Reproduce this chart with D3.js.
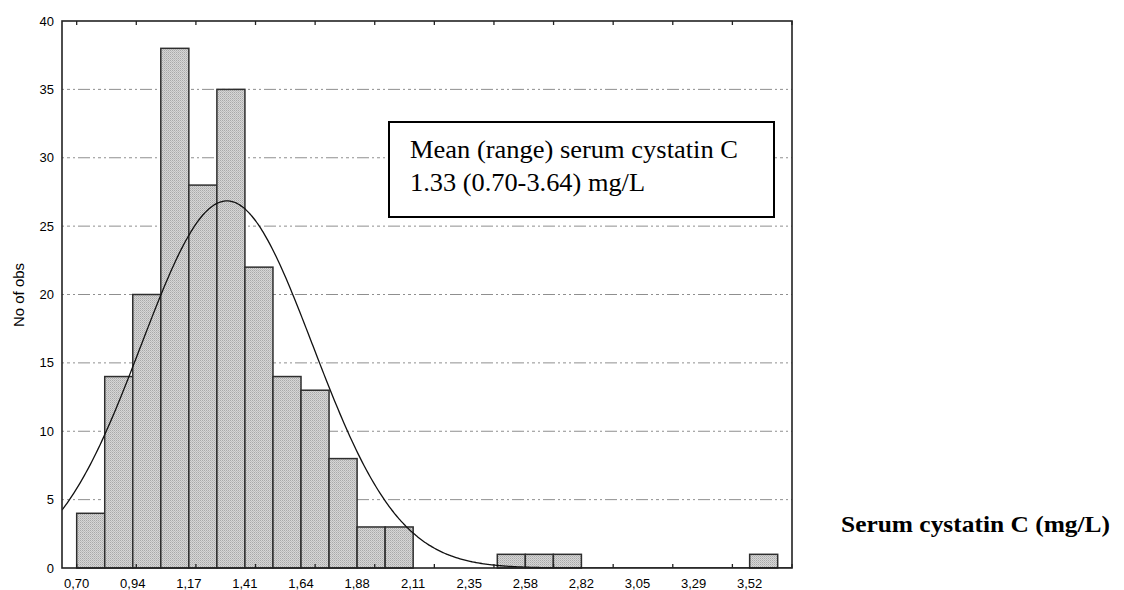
<!DOCTYPE html>
<html>
<head>
<meta charset="utf-8">
<script src="https://cdn.jsdelivr.net/npm/d3@7"></script>
<style>
  body { margin: 0; background: #fff; }
  svg { display: block; }
</style>
</head>
<body>
<div id="chart"></div>
<script>
// histogram of serum cystatin C, 25 equal bins from 0.70 to 3.64
const binMin = 0.70;
const binMax = 3.64;
const counts = [4, 14, 20, 38, 28, 35, 22, 14, 13, 8, 3, 3, 0, 0, 0, 1, 1, 1, 0, 0, 0, 0, 0, 0, 1];

// labels sit on every second bin edge
const xTickLabels = ['0,70', '0,94', '1,17', '1,41', '1,64', '1,88', '2,11', '2,35', '2,58', '2,82', '3,05', '3,29', '3,52'];
const yTicks = [0, 5, 10, 15, 20, 25, 30, 35, 40];

// fitted normal curve
const fitMean = 1.33;
const fitSd = 0.36;

const boxLines = ['Mean (range) serum cystatin C', '1.33 (0.70-3.64) mg/L'];

const width = 1124, height = 590;
const plot = { left: 62, right: 792, top: 21, bottom: 568 };

const svg = d3.select('#chart').append('svg')
  .attr('width', width)
  .attr('height', height)
  .attr('viewBox', [0, 0, width, height]);

const binW = (binMax - binMin) / counts.length;
const total = d3.sum(counts);
const bins = counts.map((c, i) => ({ x0: binMin + i * binW, x1: binMin + (i + 1) * binW, n: c }));

const x = d3.scaleLinear().domain([0.6384, 3.70]).range([plot.left, plot.right]);
const y = d3.scaleLinear().domain([0, 40]).range([plot.bottom, plot.top]);

// fine cross-hatch for the bars
const defs = svg.append('defs');
const pat = defs.append('pattern')
  .attr('id', 'hatch')
  .attr('patternUnits', 'userSpaceOnUse')
  .attr('width', 2).attr('height', 2);
pat.append('rect').attr('width', 2).attr('height', 2).attr('fill', '#d6d6d6');
pat.append('rect').attr('width', 1).attr('height', 1).attr('fill', '#a9a9a9');
pat.append('rect').attr('x', 1).attr('y', 1).attr('width', 1).attr('height', 1).attr('fill', '#bdbdbd');

defs.append('clipPath').attr('id', 'plotclip')
  .append('rect')
  .attr('x', plot.left).attr('y', plot.top)
  .attr('width', plot.right - plot.left).attr('height', plot.bottom - plot.top);

// grid lines ////////////////////////////////////////////////////////////////
svg.append('g').attr('id', 'grid')
  .selectAll('line')
  .data(yTicks.filter(d => d > 0 && d < 40))
  .join('line')
  .attr('x1', plot.left).attr('x2', plot.right)
  .attr('y1', d => y(d)).attr('y2', d => y(d))
  .attr('stroke', '#8f8f8f')
  .attr('stroke-width', 1)
  .attr('stroke-dasharray', '2,3,3,3,2,3,12,3');

// bars //////////////////////////////////////////////////////////////////////
svg.append('g').attr('id', 'bars')
  .selectAll('rect')
  .data(bins.filter(d => d.n > 0))
  .join('rect')
  .attr('x', d => x(d.x0))
  .attr('width', d => x(d.x1) - x(d.x0))
  .attr('y', d => y(d.n))
  .attr('height', d => y(0) - y(d.n))
  .attr('fill', 'url(#hatch)')
  .attr('stroke', '#2e2e2e')
  .attr('stroke-width', 1.5);

// normal curve //////////////////////////////////////////////////////////////
const scaleN = total * binW / (fitSd * Math.sqrt(2 * Math.PI));
const curvePts = d3.range(plot.left, plot.right + 1, 2).map(px => {
  const v = x.invert(px);
  const z = (v - fitMean) / fitSd;
  return [v, scaleN * Math.exp(-0.5 * z * z)];
});
svg.append('path')
  .attr('clip-path', 'url(#plotclip)')
  .attr('d', d3.line().x(d => x(d[0])).y(d => y(d[1])).curve(d3.curveBasis)(curvePts))
  .attr('fill', 'none')
  .attr('stroke', '#111')
  .attr('stroke-width', 1.3);

// frame and ticks ///////////////////////////////////////////////////////////
svg.append('rect')
  .attr('x', plot.left).attr('y', plot.top)
  .attr('width', plot.right - plot.left).attr('height', plot.bottom - plot.top)
  .attr('fill', 'none')
  .attr('stroke', '#222')
  .attr('stroke-width', 1.6);

const tickVals = d3.range(13).map(i => 0.70 + i * 0.25);
const ticks = svg.append('g').attr('id', 'ticks').attr('stroke', '#222').attr('stroke-width', 1.3);
ticks.selectAll('.tt').data(tickVals).join('line').attr('class', 'tt')
  .attr('x1', d => x(d)).attr('x2', d => x(d))
  .attr('y1', plot.top).attr('y2', plot.top + 4);
ticks.selectAll('.tb').data(tickVals).join('line').attr('class', 'tb')
  .attr('x1', d => x(d)).attr('x2', d => x(d))
  .attr('y1', plot.bottom).attr('y2', plot.bottom - 4);

// tick labels ///////////////////////////////////////////////////////////////
svg.append('g')
  .attr('font-family', 'Liberation Sans, Arial, sans-serif')
  .attr('font-size', 13)
  .attr('text-anchor', 'end')
  .selectAll('text')
  .data(yTicks)
  .join('text')
  .attr('x', 54)
  .attr('y', d => y(d) + 4.5)
  .text(d => d);

svg.append('g')
  .attr('font-family', 'Liberation Sans, Arial, sans-serif')
  .attr('font-size', 13)
  .attr('text-anchor', 'middle')
  .selectAll('text')
  .data(xTickLabels)
  .join('text')
  .attr('x', (d, i) => x(binMin + 2 * i * binW))
  .attr('y', 588)
  .text(d => d);

svg.append('text')
  .attr('transform', 'translate(24,295) rotate(-90)')
  .attr('font-family', 'Liberation Sans, Arial, sans-serif')
  .attr('font-size', 15)
  .attr('text-anchor', 'middle')
  .text('No of obs');

// annotation box ////////////////////////////////////////////////////////////
svg.append('rect')
  .attr('x', 389).attr('y', 122)
  .attr('width', 385).attr('height', 95)
  .attr('fill', '#fff')
  .attr('stroke', '#000')
  .attr('stroke-width', 2);

svg.append('g')
  .attr('font-family', 'Liberation Serif, Times New Roman, serif')
  .attr('font-size', 25)
  .selectAll('text')
  .data(boxLines)
  .join('text')
  .attr('x', 410)
  .attr('y', (d, i) => 158 + i * 33)
  .attr('textLength', (d, i) => [328, 235][i])
  .attr('lengthAdjust', 'spacingAndGlyphs')
  .text(d => d);

svg.append('text')
  .attr('x', 841).attr('y', 532)
  .attr('font-family', 'Liberation Serif, Times New Roman, serif')
  .attr('font-weight', 'bold')
  .attr('font-size', 23)
  .attr('textLength', 269)
  .attr('lengthAdjust', 'spacingAndGlyphs')
  .text('Serum cystatin C (mg/L)');
</script>
</body>
</html>
